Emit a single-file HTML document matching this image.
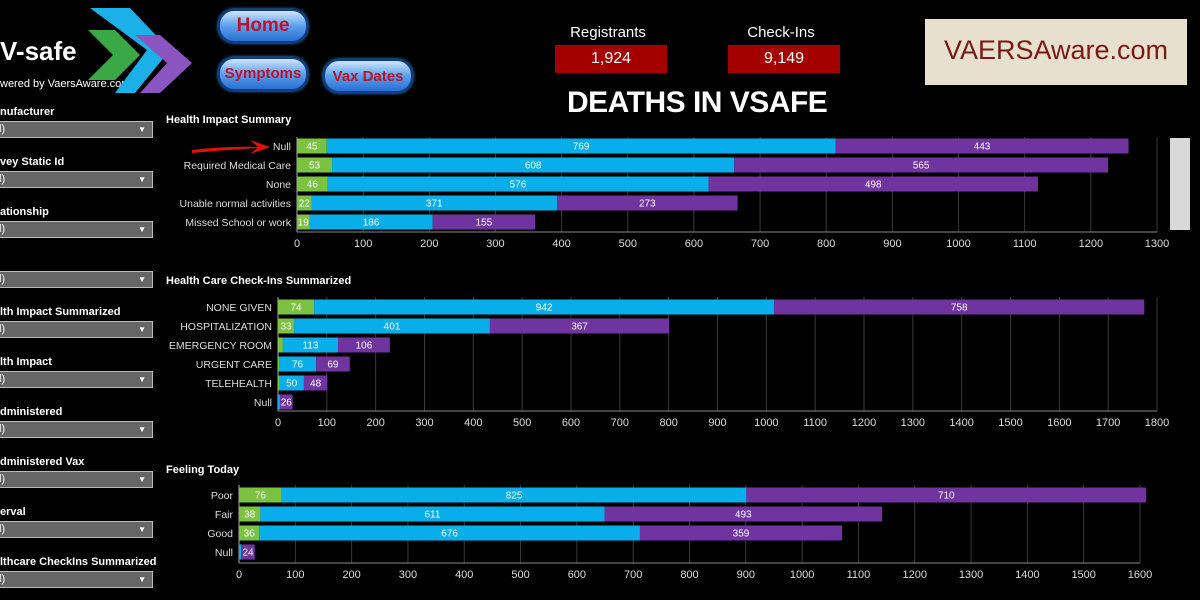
<!DOCTYPE html>
<html><head><meta charset="utf-8"><style>
body{margin:0;background:#000;width:1200px;height:600px;overflow:hidden;font-family:"Liberation Sans",sans-serif;color:#fff;position:relative}
.abs{position:absolute}
.flabel{position:absolute;left:0;font-size:11px;font-weight:bold;color:#fff}
.dd{position:absolute;left:-2px;width:153px;height:15px;background:#666;border:1px solid #bbb;font-size:11px;color:#fff;line-height:15px}
.dd span{position:absolute;right:6px;top:0;font-size:8px}
.btn{position:absolute;height:30px;border-radius:16px;background:linear-gradient(#cfe6ff,#5aa0ea 50%,#2a6fd0);border:2px solid #0b3d91;color:#c0102a;font-weight:bold;text-align:center;box-shadow:0 0 3px #4af}
.kpi{position:absolute;width:112px;height:28px;background:#a50000;font-size:16px;text-align:center;line-height:28px}
.kl{position:absolute;font-size:15px;text-align:center;width:112px}
</style></head><body>
<div class="abs" style="left:0;top:36px;font-size:26px;font-weight:bold">V-safe</div>
<div class="abs" style="left:0;top:78px;font-size:11px">wered by VaersAware.com</div>
<svg class="abs" style="left:85px;top:5px" width="110" height="90">
<polygon points="3,25 30,25 55,50 30,75 3,75 28,50" fill="#3aa845"/>
<polygon points="5,3 45,3 85,45 50,88 30,88 62,45" fill="#1cb0e8"/>
<polygon points="50,30 75,30 107,58 75,88 55,88 82,58" fill="#8a55c0"/>
</svg>
<div class="btn" style="left:218px;top:9px;width:86px;font-size:19px;line-height:30px">Home</div>
<div class="btn" style="left:218px;top:57px;width:86px;font-size:15px;line-height:30px">Symptoms</div>
<div class="btn" style="left:323px;top:59px;width:86px;font-size:15px;line-height:32px">Vax Dates</div>
<div class="kl" style="left:552px;top:24px">Registrants</div>
<div class="kpi" style="left:555px;top:45px">1,924</div>
<div class="kl" style="left:725px;top:24px">Check-Ins</div>
<div class="kpi" style="left:728px;top:45px">9,149</div>
<div class="abs" style="left:567px;top:86px;font-size:30px;font-weight:bold;letter-spacing:-0.5px">DEATHS IN VSAFE</div>
<div class="abs" style="left:925px;top:19px;width:262px;height:66px;background:#e8e0cf;color:#7a1a14;font-size:27px;line-height:62px;text-align:center">VAERSAware.com</div>
<div id="filters"></div>
<svg id="charts" class="abs" style="left:0;top:0" width="1200" height="600"></svg>
<script>
const filterNames=["nufacturer","vey Static Id","ationship","","lth Impact Summarized","lth Impact","dministered","dministered Vax","erval","lthcare CheckIns Summarized"];
const f=document.getElementById('filters');
filterNames.forEach((n,i)=>{
 const l=document.createElement('div');l.className='flabel';l.style.top=(106+i*50)+'px';l.textContent=n;
 
 
 f.appendChild(l);
 const d=document.createElement('div');d.className='dd';d.style.top=(121+i*50)+'px';d.innerHTML='l)<span>▼</span>';
 
 
 f.appendChild(d);
});

const c1Cats=["Null","Required Medical Care","None","Unable normal activities","Missed School or work"];
const c1Green=[45,53,46,22,19];
const c1Blue=[769,608,576,371,186];
const c1Purple=[443,565,498,273,155];
const c1Ticks=[0,100,200,300,400,500,600,700,800,900,1000,1100,1200,1300];

const c2Cats=["NONE GIVEN","HOSPITALIZATION","EMERGENCY ROOM","URGENT CARE","TELEHEALTH","Null"];
const c2Green=[74,33,10,2,3,0];
const c2Blue=[942,401,113,76,50,4];
const c2Purple=[758,367,106,69,48,26];
const c2Ticks=[0,100,200,300,400,500,600,700,800,900,1000,1100,1200,1300,1400,1500,1600,1700,1800];

const c3Cats=["Poor","Fair","Good","Null"];
const c3Green=[76,38,36,0];
const c3Blue=[825,611,676,4];
const c3Purple=[710,493,359,24];
const c3Ticks=[0,100,200,300,400,500,600,700,800,900,1000,1100,1200,1300,1400,1500,1600];

const svg=document.getElementById('charts');const NS='http://www.w3.org/2000/svg';
function el(t,a,txt){const e=document.createElementNS(NS,t);for(const k in a)e.setAttribute(k,a[k]);if(txt!==undefined)e.textContent=txt;svg.appendChild(e);return e;}
function chart(o){
 const sx=v=>o.x0+(v-o.ticks[0])*(o.x1-o.x0)/(o.ticks[o.ticks.length-1]-o.ticks[0]);
 const t=el('text',{x:166,y:o.titleY,fill:'#fff','font-size':11,'font-weight':'bold'},o.title);
 
 o.ticks.forEach(v=>{
  const g=el('line',{x1:sx(v),x2:sx(v),y1:o.yTop,y2:o.axisY,stroke:v===0?'#aaa':'#3a3a3a','stroke-width':1});
  
  const tl=el('text',{x:sx(v),y:o.axisY+15,fill:'#ddd','font-size':11,'text-anchor':'middle'},v);
  
 });
 const ax=el('line',{x1:o.x0,x2:o.x1,y1:o.axisY,y2:o.axisY,stroke:'#888'});
 
 o.cats.forEach((cat,i)=>{
  const cy=o.y0+i*19;
  const cl=el('text',{x:o.x0-6,y:cy+4,fill:'#ddd','font-size':10.5,'text-anchor':'end'},cat);
  
  let acc=0;
  [[o.g,'#7cc242','bar-green'],[o.b,'#08aeea','bar-blue'],[o.p,'#7034a0','bar-purple']].forEach(([arr,col,nm])=>{
   const v=arr[i];if(!v){return;}
   const r=el('rect',{x:sx(acc),y:cy-7.5,width:sx(acc+v)-sx(acc),height:15,fill:col});
   
   if(v>=15){const vt=el('text',{x:(sx(acc)+sx(acc+v))/2,y:cy+3.5,fill:'#fff','font-size':10,'text-anchor':'middle'},v);
    }
   acc+=v;
  });
 });
}
chart({title:'Health Impact Summary',titleY:123,x0:297,x1:1157,ticks:c1Ticks,cats:c1Cats,g:c1Green,b:c1Blue,p:c1Purple,y0:146,yTop:137,axisY:232});
chart({title:'Health Care Check-Ins Summarized',titleY:284,x0:278,x1:1157,ticks:c2Ticks,cats:c2Cats,g:c2Green,b:c2Blue,p:c2Purple,y0:307,yTop:297,axisY:411});
chart({title:'Feeling Today',titleY:473,x0:239,x1:1140,ticks:c3Ticks,cats:c3Cats,g:c3Green,b:c3Blue,p:c3Purple,y0:495,yTop:485,axisY:563});
const sb=el('rect',{x:1170,y:138,width:20,height:92,fill:'#d8d8d8'});

const ar=el('path',{d:'M192,150 Q225,146 258,147 L250,140 L270,147 L250,154 L257,148 Q225,150 192,153 Z',fill:'#e01010'});

</script>
</body></html>
